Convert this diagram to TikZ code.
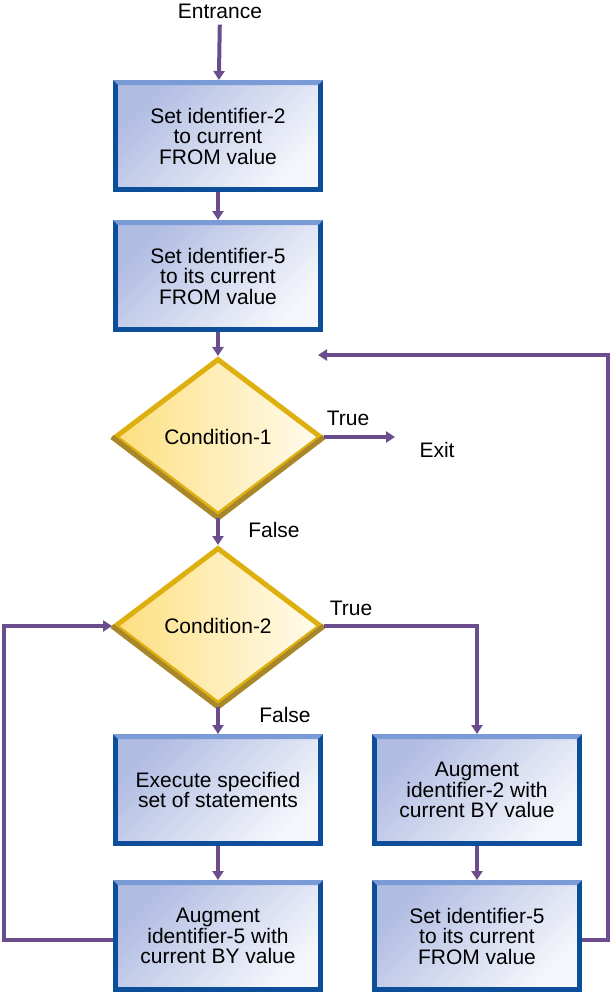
\documentclass[tikz,border=0pt]{standalone}
\usepackage{fontspec}
\setmainfont{Liberation Sans}
\usetikzlibrary{shapes.geometric, positioning, arrows.meta}

\definecolor{flowline}{HTML}{6B4C8C}
\definecolor{boxedge}{HTML}{0D4E9A}
\definecolor{boxtop}{HTML}{7B9BD6}
\definecolor{boxfillA}{HTML}{B0BCE2}
\definecolor{boxfillB}{HTML}{F6F7FC}
\definecolor{condfillA}{HTML}{FDDF80}
\definecolor{condfillB}{HTML}{FFFCEF}
\definecolor{condedge}{HTML}{DDB00F}
\definecolor{condlow}{HTML}{A8872A}

\begin{document}
\begin{tikzpicture}[
    x=1pt, y=-1pt,
    every node/.style={font=\fontsize{21}{20.5}\selectfont},
    stepbox/.style={rectangle, align=center, draw=boxedge, line width=5pt, inner sep=0pt,
        minimum width=205pt, minimum height=107pt,
        top color=boxfillA, bottom color=boxfillB, shading angle=45},
    cond/.style={diamond, aspect=1.32, draw=condedge, line width=5pt, inner sep=0pt,
        minimum width=207pt, minimum height=157pt,
        left color=condfillA, right color=condfillB},
    condshade/.style={draw=condlow, line width=5pt, line join=miter},
    lbl/.style={inner sep=0pt},
    arrow/.style={-{Triangle[length=9pt, width=11pt]}, line width=4pt, draw=flowline},
    flow/.style={line width=4pt, draw=flowline}
]

\useasboundingbox (0,0) rectangle (611,993);

\node[lbl] (entr) at (220,11) {Entrance};
\node[stepbox] (set2) at (218,136) {Set identifier-2\\to current\\FROM value};
\node[stepbox] (set5) at (218,276) {Set identifier-5\\to its current\\FROM value};
\node[cond] (cond1) at (218,437) {Condition-1};
\node[lbl] (exit) at (437,450) {Exit};
\node[cond] (cond2) at (218,626) {Condition-2};
\node[stepbox] (exec) at (218,790) {Execute specified\\set of statements};
\node[stepbox] (aug5) at (218,936) {Augment\\identifier-5 with\\current BY value};
\node[stepbox] (aug2) at (477,790) {Augment\\identifier-2 with\\current BY value};
\node[stepbox] (reset5) at (477,936) {Set identifier-5\\to its current\\FROM value};

\node[lbl] (true1) at (348,418) {True};
\node[lbl] (false1) at (274,530) {False};
\node[lbl] (true2) at (351,608) {True};
\node[lbl] (false2) at (285,715) {False};

\coordinate (exitend) at (395,437);
\coordinate (leftturn) at (4,700);
\coordinate (rightturn) at (608,600);
\coordinate (backend) at (318,355);

\foreach \b in {set2, set5, exec, aug5, aug2, reset5}
    \fill[boxtop] (\b.north west) -- ++(210,0) -- ++(-5,5) -- ++(-200,0) -- cycle;
\draw[condshade] (cond1.west) -- (cond1.south) -- (cond1.east);
\draw[condshade] (cond2.west) -- (cond2.south) -- (cond2.east);

\draw[arrow, shorten <=6pt] (entr) -- (set2);
\draw[arrow] (set2) -- (set5);
\draw[arrow] (set5) -- (cond1);
\draw[arrow] (cond1.east) -- (exitend);
\draw[arrow] (cond1) -- (cond2);
\draw[arrow] (cond2.east) -| (aug2.north);
\draw[arrow] (cond2) -- (exec);
\draw[arrow] (exec) -- (aug5);
\draw[arrow] (aug2) -- (reset5);
\draw[arrow] ([yshift=-4pt]aug5.west) -| (leftturn) |- (cond2.west);
\draw[arrow] ([yshift=-4pt]reset5.east) -| (rightturn) |- (backend);

\end{tikzpicture}
\end{document}
